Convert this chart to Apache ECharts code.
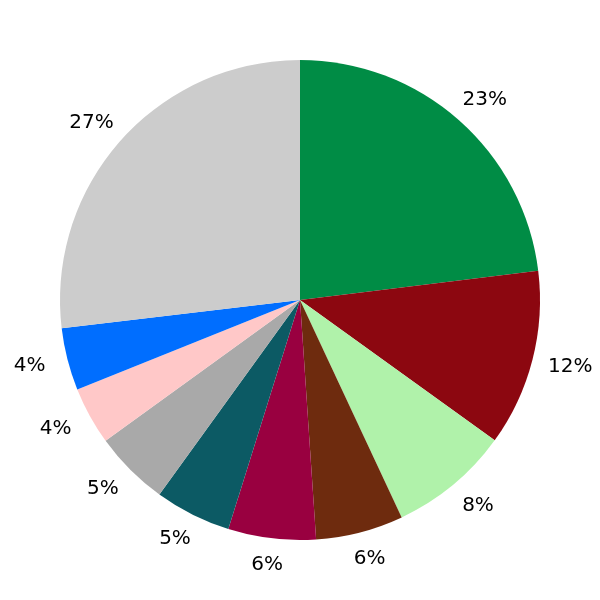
<!DOCTYPE html>
<html>
<head>
<meta charset="utf-8">
<script src="https://cdn.jsdelivr.net/npm/echarts@6/dist/echarts.min.js"></script>
<style>html,body{margin:0;padding:0;background:#fff}#c{width:600px;height:600px}</style>
</head>
<body>
<div id="c"></div>
<script>
const names = ['A','B','C','D','E','F','G','H','I','J'];
const values = [23.07, 11.9, 8.1, 5.9, 5.9, 5.14, 5.07, 3.9, 4.2, 26.9];
const colors = ['#008C45','#8C0710','#B0F2AA','#6E2B0E','#990040','#0C5A64','#A9A9A9','#FFC8C8','#006EFF','#CCCCCC'];

const data = names.map((n, i) => ({ name: n, value: values[i], itemStyle: { color: colors[i] } }));
const labelData = names.map((n, i) => ({ name: n, value: values[i] }));

const CX = 300, CY = 300;
const chart = echarts.init(document.getElementById('c'), null, { renderer: 'canvas' });
chart.setOption({
  animation: false,
  series: [
    {
      type: 'pie',
      center: [CX, CY],
      radius: [0, 240],
      startAngle: 90,
      clockwise: true,
      data: data,
      label: { show: false },
      labelLine: { show: false },
      itemStyle: { borderWidth: 0 },
      emphasis: { disabled: true }
    },
    {
      type: 'pie',
      center: [CX, CY],
      radius: [240, 312],
      startAngle: 90,
      clockwise: true,
      silent: true,
      data: labelData,
      itemStyle: { color: 'rgba(0,0,0,0)', borderWidth: 0 },
      label: {
        show: true,
        position: 'inside',
        color: '#000',
        fontFamily: 'DejaVu Sans',
        fontSize: 20,
        formatter: p => Math.round(p.value) + '%'
      },
      labelLayout: function (params) {
        const r = params.labelRect;
        const cx = r.x + r.width / 2;
        const cy = r.y + r.height / 2;
        return { x: cx, y: CY + (cy - CY) * 0.957 };
      },
      labelLine: { show: false },
      emphasis: { disabled: true }
    }
  ]
});
</script>
</body>
</html>
